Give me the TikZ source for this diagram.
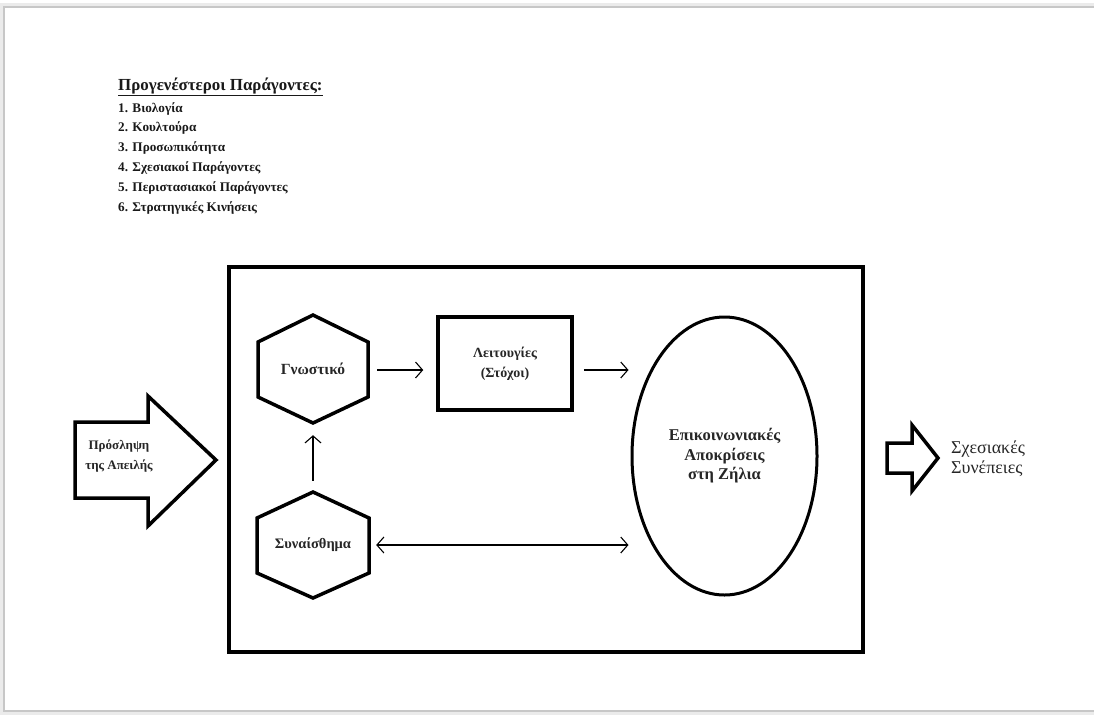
\documentclass[tikz,border=0pt]{standalone}
\usepackage{fontspec}
\setmainfont{Liberation Serif}
\usetikzlibrary{arrows.meta,shapes.geometric}
\begin{document}
\begin{tikzpicture}[x=1pt,y=-1pt,
  lbl/.style={font=\fontsize{15}{20}\selectfont\bfseries, align=center, text=black!85},
  hexnode/.style={lbl, minimum width=110pt, minimum height=108pt, inner sep=0pt},
  hexline/.style={line width=3.5pt, line join=miter},
  boxnode/.style={lbl, draw, line width=3.5pt, minimum width=134pt, minimum height=93pt, inner sep=0pt},
  ellnode/.style={lbl, draw, ellipse, line width=3pt, minimum width=185pt, minimum height=278pt, inner sep=0pt},
  listitem/.style={anchor=base west, inner sep=0pt, font=\fontsize{13.2}{18}\selectfont\bfseries, text=black!90},
  arr/.style={line width=1.1pt, -{Straight Barb[length=7pt,width=16pt,line width=1.1pt]}},
  darr/.style={line width=1.1pt, {Straight Barb[length=7pt,width=16pt,line width=1.1pt]}-{Straight Barb[length=7pt,width=16pt,line width=1.1pt]}},
  blockarrow/.style={line width=3.5pt, line join=miter}
]
\useasboundingbox (0,0) rectangle (1094,716);
% page edge shadow
\draw[black!22, line width=1.6pt] (1100,7) -- (4,7) -- (4,711) -- (1100,711);
\draw[black!8, line width=3pt] (1100,4.5) -- (1.5,4.5) -- (1.5,713.5) -- (1100,713.5);

% heading and list
\node[anchor=base west, font=\fontsize{16.9}{20}\selectfont\bfseries, inner sep=0pt, text=black!90] (title) at (118,90) {\underline{Προγενέστεροι Παράγοντες:}};
\node[listitem] (l1) at (118,112) {1. Βιολογία};
\node[listitem] (l2) at (118,131.8) {2. Κουλτούρα};
\node[listitem] (l3) at (118,151.6) {3. Προσωπικότητα};
\node[listitem] (l4) at (118,171.4) {4. Σχεσιακοί Παράγοντες};
\node[listitem] (l5) at (118,191.2) {5. Περιστασιακοί Παράγοντες};
\node[listitem] (l6) at (118,211) {6. Στρατηγικές Κινήσεις};

% big frame
\node[draw, line width=4pt, minimum width=634pt, minimum height=385pt, inner sep=0pt] (frame) at (546,459.5) {};

% hexagons
\node[hexnode, font=\fontsize{15.5}{20}\selectfont\bfseries] (gno) at (313,369) {Γνωστικό};
\draw[hexline, shift={(gno.center)}] (0,-54) -- (55,-27) -- (55,28) -- (0,54) -- (-55,28) -- (-55,-27) -- cycle;
\node[hexnode, font=\fontsize{14.5}{20}\selectfont\bfseries] (sun) at (313,545) {Συναίσθημα};
\draw[hexline, shift={(sun.center)}] (0,-53) -- (56,-27) -- (56,28) -- (0,53) -- (-56,28) -- (-56,-27) -- cycle;

% rectangle
\node[boxnode, font=\fontsize{14}{20}\selectfont\bfseries] (leit) at (505,363.5) {Λειτουγίες\\(Στόχοι)};

% ellipse
\node[ellnode, font=\fontsize{16.5}{19.5}\selectfont\bfseries] (ell) at (724.5,456) {Επικοινωνιακές\\Αποκρίσεις\\στη Ζήλια};

% connectors
\coordinate (a1) at ([yshift=-1pt]gno.east);
\draw[arr, shorten <=9pt, shorten >=13pt] (a1) -- (a1 -| leit.west);
\coordinate (a2) at ([yshift=-1pt]leit.east |- gno.east);
\draw[arr, shorten <=10pt, shorten >=2pt] (a2) -- (a2 -| ell.west);
\draw[arr, shorten <=10pt, shorten >=12pt] (sun.north) -- (gno.south);
\draw[darr, shorten <=8pt, shorten >=2pt] (sun.east) -- (sun.east -| ell.west);

% left block arrow
\node[lbl, font=\fontsize{13}{20}\selectfont\bfseries] (pros) at (119,456) {Πρόσληψη\\της Απειλής};
\draw[blockarrow] (75,422) -- (148,422) -- (148,396) -- (216,460) -- (148,526) -- (148,498) -- (75,498) -- cycle;

% right block arrow
\coordinate (rarrow) at (912,458);
\draw[blockarrow] (887,443) -- (912,443) -- (912,425) -- (938,458) -- (912,491) -- (912,473) -- (887,473) -- cycle;
\node[anchor=west, align=left, font=\fontsize{18}{20}\selectfont, text=black!85, inner sep=0pt] (syn) at (951,459) {Σχεσιακές\\Συνέπειες};
\end{tikzpicture}
\end{document}
